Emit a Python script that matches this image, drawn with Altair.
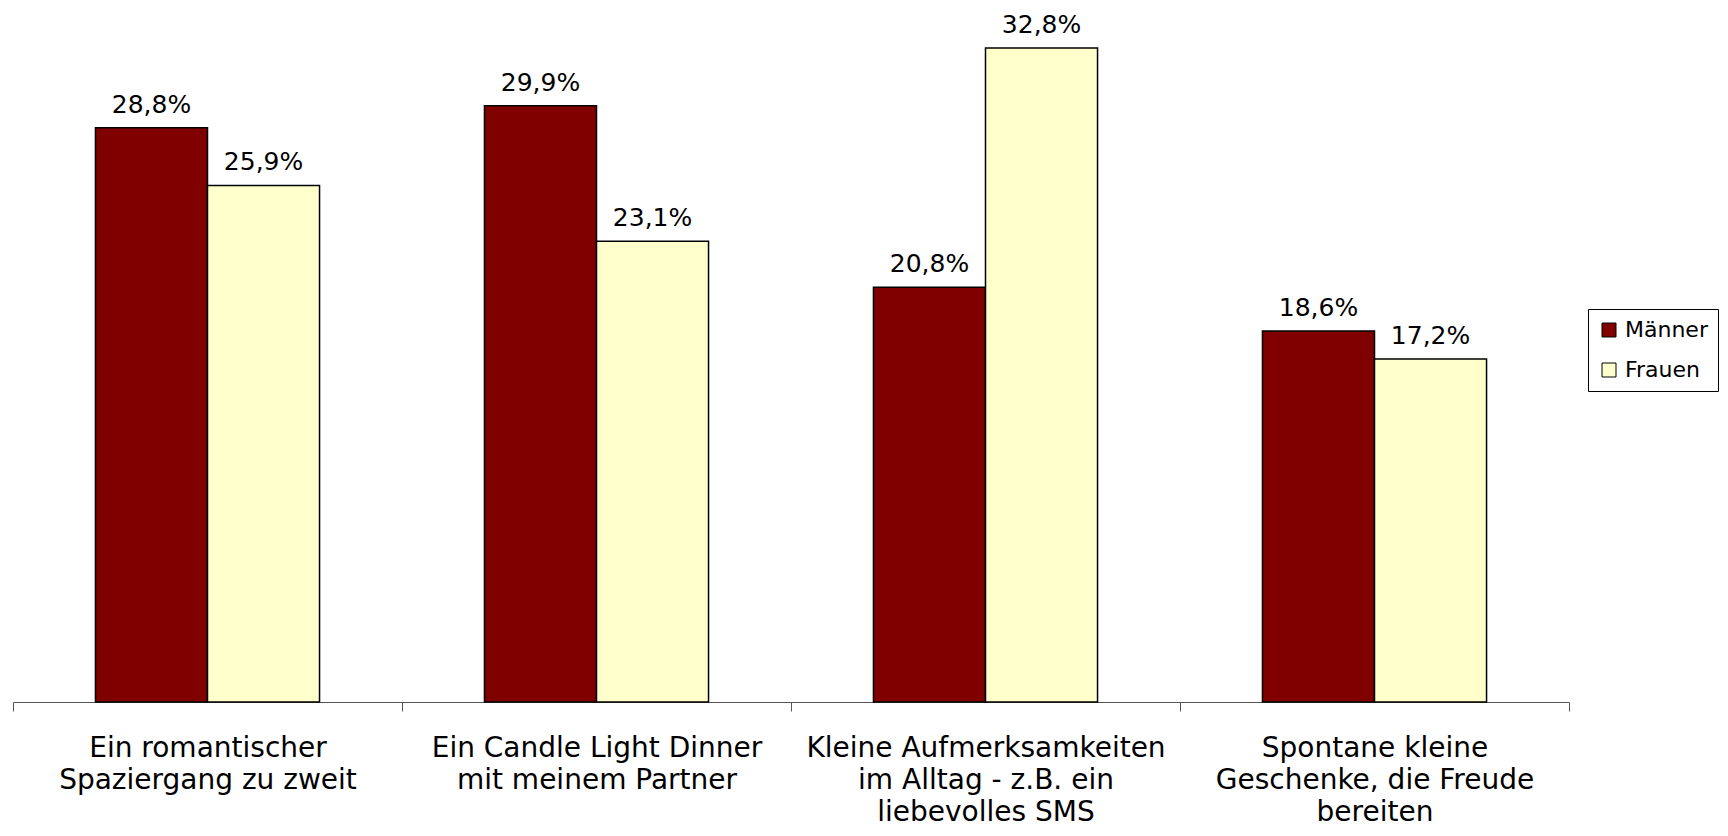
import altair as alt
import pandas as pd

categories = [
    "Ein romantischer|Spaziergang zu zweit",
    "Ein Candle Light Dinner|mit meinem Partner",
    "Kleine Aufmerksamkeiten|im Alltag - z.B. ein|liebevolles SMS",
    "Spontane kleine|Geschenke, die Freude|bereiten",
]
series = ["Männer", "Frauen"]
maenner = [28.8, 29.9, 20.8, 18.6]
frauen = [25.9, 23.1, 32.8, 17.2]
colors = ["#800000", "#FFFFCC"]

rows = []
for c, m, f in zip(categories, maenner, frauen):
    rows.append({"cat": c, "series": "Männer", "value": m})
    rows.append({"cat": c, "series": "Frauen", "value": f})
df = pd.DataFrame(rows)

FONT = "DejaVu Sans"

x = alt.X(
    "cat:N",
    sort=categories,
    scale=alt.Scale(paddingInner=0, paddingOuter=0),
    axis=alt.Axis(
        title=None,
        labelAngle=0,
        labelExpr="split(datum.label, '|')",
        labelFont=FONT,
        labelFontSize=28,
        labelLineHeight=32,
        labelPadding=23,
        labelColor="black",
        labelLimit=0,
        domainColor="#555555",
        tickColor="#555555",
        tickSize=9,
        tickBand="extent",
        grid=False,
    ),
)
xo = alt.XOffset("series:N", sort=series, scale=alt.Scale(paddingOuter=0.736, paddingInner=0))
y = alt.Y("value:Q", scale=alt.Scale(domain=[0, 34.8]), axis=None)

bars = alt.Chart(df).mark_bar(stroke="black", strokeWidth=1.5).encode(
    x=x,
    xOffset=xo,
    y=y,
    color=alt.Color(
        "series:N",
        sort=series,
        scale=alt.Scale(domain=series, range=colors),
        legend=alt.Legend(
            title=None,
            orient="none",
            legendX=1575,
            legendY=301,
            strokeColor="black",
            fillColor="white",
            padding=10,
            symbolType="square",
            symbolSize=196,
            symbolStrokeColor="black",
            symbolStrokeWidth=1,
            symbolOpacity=1,
            labelFont=FONT,
            labelFontSize=22,
            labelColor="black",
            labelOffset=5,
            rowPadding=18,
        ),
    ),
)

labels = alt.Chart(df).transform_calculate(
    lab="replace(format(datum.value, '.1f'), '.', ',') + '%'"
).mark_text(baseline="alphabetic", dy=-15, fontSize=25, font=FONT, color="black").encode(
    x=x, xOffset=xo, y=y, text="lab:N"
)

chart = (
    alt.layer(bars, labels)
    .properties(
        width=1556,
        height=694,
        padding={"left": 5, "top": 0, "right": 151, "bottom": 126},
        autosize=alt.AutoSizeParams(type="none"),
        background="white",
    )
    .configure_view(stroke=None)
)

chart.save("out.html", embed_options={"renderer": "svg", "actions": False})
